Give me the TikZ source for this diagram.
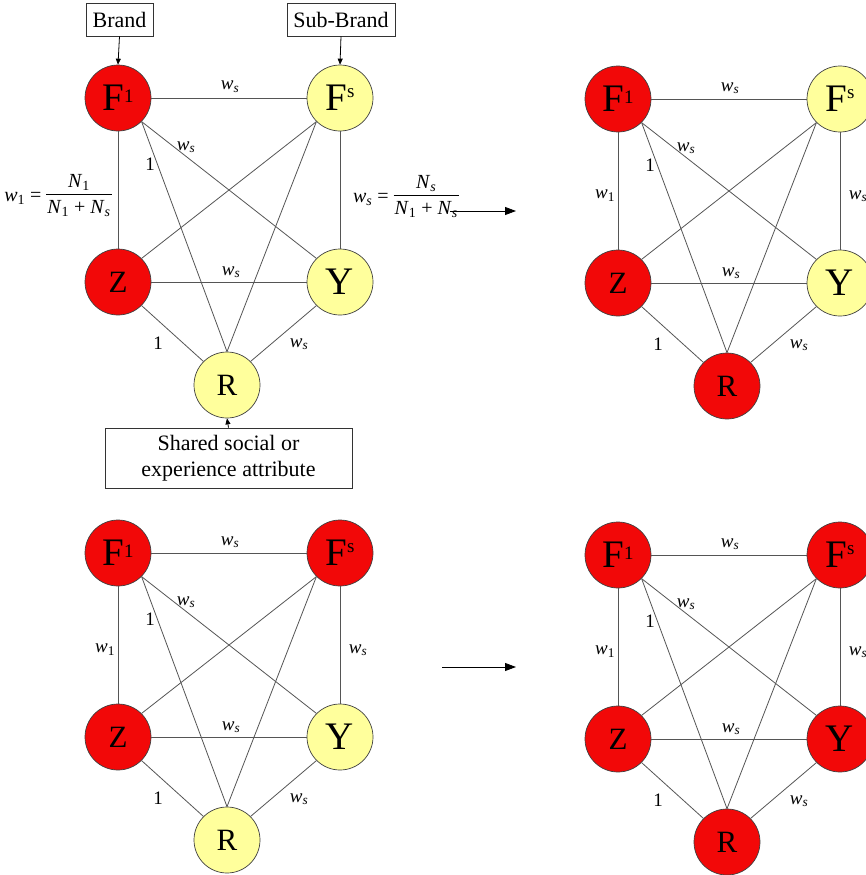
\documentclass[tikz,border=0pt]{standalone}
\usepackage{fontspec}
\setmainfont{Liberation Serif}
\usetikzlibrary{arrows.meta}

\definecolor{nodered}{RGB}{242,8,8}
\definecolor{nodeyellow}{RGB}{255,255,156}
\definecolor{edgegray}{RGB}{85,85,85}

% vertex captions
\newcommand\Fone{{\fontsize{39}{39}\selectfont F}\raisebox{8pt}{\fontsize{19}{19}\selectfont 1}}
\newcommand\Fsub{{\fontsize{39}{39}\selectfont F}\raisebox{13pt}{\fontsize{19}{19}\selectfont s}}
% edge weights
\newcommand\wsl{\textit{w}\textsubscript{\textit{s}}}
\newcommand\wone{\textit{w}\textsubscript{1}}
\newcommand\Nsym[1]{\textit{N}\textsubscript{#1}}
\newcommand\fracbox[1]{%
  {\setlength{\arrayrulewidth}{0.8pt}\setlength{\tabcolsep}{1pt}%
   \begin{tabular}{c}#1\\[-1pt]\hline\rule{0pt}{19pt}\Nsym{1} + \Nsym{\textit{s}}\end{tabular}}}

\tikzset{
  vertex/.style={circle, minimum size=66pt, inner sep=0pt, draw=black!75, line width=0.7pt},
  edge/.style={draw=edgegray, line width=0.8pt},
  lbl/.style={font=\fontsize{19}{21}\selectfont, inner sep=0pt},
  tag/.style={draw=black!80, line width=0.7pt, fill=white, inner sep=3pt,
              font=\fontsize{22}{26}\selectfont, align=center},
  feed/.style={draw=black, line width=0.8pt, -{Triangle[length=6pt,width=5pt]}},
  flow/.style={draw=black, line width=0.8pt, -{Triangle[length=11pt,width=8pt]}},
  eqn/.style={font=\fontsize{20}{23}\selectfont, inner sep=0pt}
}

% one five-vertex network: #1 prefix, #2 shift, #3..#7 fills of F1, Fs, Z, Y, R
\newcommand\brandnet[7]{%
\begin{scope}[shift={#2}]
  \node[vertex, fill=#3] (#1F1) at (0,0) {\Fone};
  \node[vertex, fill=#4] (#1Fs) at (222,0) {\Fsub};
  \node[vertex, fill=#5, font=\fontsize{31}{31}\selectfont] (#1Z) at (0,184) {Z};
  \node[vertex, fill=#6, font=\fontsize{39}{39}\selectfont] (#1Y) at (222,184) {Y};
  \node[vertex, fill=#7, font=\fontsize{31}{31}\selectfont] (#1R) at (109,287) {R};
  \draw[edge] (#1F1.east) -- (#1Fs.west);
  \draw[edge] (#1Z.east) -- (#1Y.west);
  \draw[edge] (#1F1.south) -- (#1Z.north);
  \draw[edge] (#1Fs.south) -- (#1Y.north);
  \draw[edge] (#1F1.south east) -- (#1Y.north west);
  \draw[edge] (#1F1.south east) -- (#1R.north);
  \draw[edge] (#1Fs.south west) -- (#1Z.north east);
  \draw[edge] (#1Fs.south west) -- (#1R.north);
  \draw[edge] (#1Z.south east) -- (#1R.north west);
  \draw[edge] (#1Y.south west) -- (#1R.north east);
  \node[lbl] (#1wtop) at (112,-11) {\wsl};
  \node[lbl] (#1wdiag) at (68,49) {\wsl};
  \node[lbl] (#1one) at (32,66) {1};
  \node[lbl] (#1wmid) at (113,174) {\wsl};
  \node[lbl] (#1oneR) at (40,245) {1};
  \node[lbl] (#1wR) at (181,246) {\wsl};
\end{scope}}

% side weights on the vertical edges
\newcommand\sideweights[2]{%
\begin{scope}[shift={#2}]
  \node[lbl] (#1wleft) at (-13,97) {\wone};
  \node[lbl] (#1wright) at (240,97) {\wsl};
\end{scope}}

\begin{document}
\begin{tikzpicture}[x=1pt, y=-1pt]
  \useasboundingbox (0,0) rectangle (866,875);
  \fill[white] (0,0) rectangle (866,875);

  % initial network with its sources
  \brandnet{a}{(118,98)}{nodered}{nodeyellow}{nodered}{nodeyellow}{nodeyellow}
  \node[tag, minimum width=67pt, minimum height=33pt] (brand) at (119.5,19.5) {Brand};
  \node[tag, minimum width=108pt, minimum height=33pt] (subbrand) at (341,19.5) {Sub-Brand};
  \node[tag, minimum width=247pt, minimum height=60pt] (shared) at (228.5,458) {Shared social or\\experience attribute};
  \draw[feed] (brand.south) -- (aF1.north);
  \draw[feed] (subbrand.south) -- (aFs.north);
  \draw[feed] (shared.north) -- (aR.south);
  \node[eqn] (eqone) at (58,196) {\wone{} = \fracbox{\Nsym{1}}};
  \node[eqn] (eqs) at (406,197) {\wsl{} = \fracbox{\Nsym{\textit{s}}}};

  % first step
  \coordinate (flowAstart) at (450,211);
  \coordinate (flowAend) at (516,211);
  \draw[flow] (flowAstart) -- (flowAend);
  \brandnet{b}{(618,99)}{nodered}{nodeyellow}{nodered}{nodeyellow}{nodered}
  \sideweights{b}{(618,99)}

  % second stage
  \brandnet{c}{(118,553)}{nodered}{nodered}{nodered}{nodeyellow}{nodeyellow}
  \sideweights{c}{(118,553)}

  \coordinate (flowBstart) at (442,667);
  \coordinate (flowBend) at (516,667);
  \draw[flow] (flowBstart) -- (flowBend);
  \brandnet{d}{(618,555)}{nodered}{nodered}{nodered}{nodered}{nodered}
  \sideweights{d}{(618,555)}
\end{tikzpicture}
\end{document}
